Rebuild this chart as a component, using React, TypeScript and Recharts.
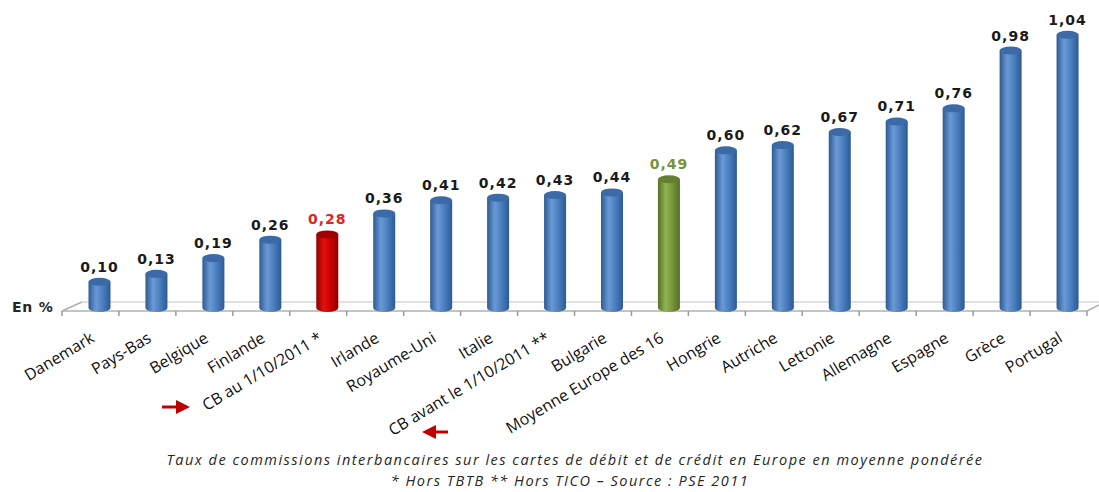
import React from 'react';
import * as RC from 'recharts';
import { BarChart, Bar, XAxis, YAxis, LabelList } from 'recharts';

const categories = [
  'Danemark', 'Pays-Bas', 'Belgique', 'Finlande', 'CB au 1/10/2011 *', 'Irlande',
  'Royaume-Uni', 'Italie', 'CB avant le 1/10/2011 **', 'Bulgarie', 'Moyenne Europe des 16',
  'Hongrie', 'Autriche', 'Lettonie', 'Allemagne', 'Espagne', 'Grèce', 'Portugal',
];
const values = [0.10, 0.13, 0.19, 0.26, 0.28, 0.36, 0.41, 0.42, 0.43, 0.44, 0.49, 0.60, 0.62, 0.67, 0.71, 0.76, 0.98, 1.04];
const highlight = ['blue', 'blue', 'blue', 'blue', 'red', 'blue', 'blue', 'blue', 'blue', 'blue', 'green', 'blue', 'blue', 'blue', 'blue', 'blue', 'blue', 'blue'];
const caption1 = 'Taux de commissions interbancaires sur les cartes de débit et de crédit en Europe en moyenne pondérée';
const caption2 = '* Hors TBTB ** Hors TICO – Source : PSE 2011';
const unitLabel = 'En %';

const data = categories.map((c, i) => ({ name: c, value: values[i], kind: highlight[i] }));

const W = 1099;
const H = 492;
const M = { top: 19, right: 12, left: 62, bottom: 0 };
const PLOT_BOTTOM = 308;
const SHIFT = 9.5;

const palette: Record<string, { dark: string; mid: string; light: string; top: string; label: string }> = {
  blue: { dark: '#2d5a93', mid: '#4a7ebe', light: '#6a9ad6', top: '#3b6aa6', label: '#1a1a1a' },
  red: { dark: '#8e0000', mid: '#c80000', light: '#e81010', top: '#a00000', label: '#e02424' },
  green: { dark: '#56702a', mid: '#77963c', light: '#92b450', top: '#647f30', label: '#76923c' },
};

const Cylinder = (props: any) => {
  const { x, y, width, height, index, payload } = props;
  const kind = (payload && payload.kind) || highlight[index] || 'blue';
  const c = palette[kind];
  const cx = x + width / 2 + SHIFT;
  const rx = width / 2;
  const ry = 4;
  const left = cx - rx;
  const right = cx + rx;
  const bottom = y + height;
  const id = `cyl-grad-${index}`;
  return (
    <g>
      <defs>
        <linearGradient id={id} x1="0" y1="0" x2="1" y2="0">
          <stop offset="0%" stopColor={c.dark} />
          <stop offset="35%" stopColor={c.light} />
          <stop offset="65%" stopColor={c.mid} />
          <stop offset="100%" stopColor={c.dark} />
        </linearGradient>
      </defs>
      <path
        d={`M${left},${y} L${left},${bottom} A${rx},${ry} 0 0 0 ${right},${bottom} L${right},${y} Z`}
        fill={`url(#${id})`}
      />
      <ellipse cx={cx} cy={y} rx={rx} ry={ry} fill={c.top} />
    </g>
  );
};

const ValueLabel = (props: any) => {
  const { x, y, width, value, index } = props;
  const kind = highlight[index] || 'blue';
  return (
    <text
      x={x + width / 2 + SHIFT}
      y={y - 10}
      textAnchor="middle"
      fontFamily="DejaVu Sans"
      fontWeight="bold"
      fontSize={14}
      letterSpacing={1}
      fill={palette[kind].label}
    >
      {String(Number(value).toFixed(2)).replace('.', ',')}
    </text>
  );
};

const CatTick = (props: any) => {
  const { x, payload } = props;
  const ax = x + 5;
  const ay = PLOT_BOTTOM + 33;
  return (
    <text
      x={ax}
      y={ay}
      transform={`rotate(-31, ${ax}, ${ay})`}
      textAnchor="end"
      fontFamily="Open Sans"
      fontSize={16}
      fill="#111111"
    >
      {payload.value}
    </text>
  );
};

const Decor = () => {
  const L = M.left;
  const R = W - M.right;
  const n = categories.length;
  const step = (R - L) / n;
  const fy = 311;
  const by = 302;
  const d = 20;
  const ticks = [] as React.ReactNode[];
  for (let k = 0; k <= n; k++) {
    const tx = L + step * k;
    ticks.push(<line key={k} x1={tx} y1={fy} x2={tx} y2={316} stroke="#9a9a9a" strokeWidth={1.5} />);
  }
  return (
    <g>
      <line x1={L} y1={fy} x2={R} y2={fy} stroke="#b0b0b0" strokeWidth={1.5} />
      <line x1={L} y1={fy} x2={L + d} y2={by} stroke="#b0b0b0" strokeWidth={1.5} />
      <line x1={L + d} y1={by} x2={W} y2={by} stroke="#c4c4c4" strokeWidth={1.2} />
      <line x1={R} y1={fy} x2={W} y2={fy - 6} stroke="#b0b0b0" strokeWidth={1.5} />
      {ticks}
      <text x={12} y={312} fontFamily="DejaVu Sans" fontWeight="bold" fontSize={14} letterSpacing={0.8} fill="#262626">
        {unitLabel}
      </text>
      <g fill="#c00000" stroke="#c00000">
        <line x1={162} y1={407} x2={178} y2={407} strokeWidth={3} />
        <polygon points="176,400 190,407 176,414" stroke="none" />
        <line x1={448} y1={432} x2={434} y2={432} strokeWidth={3} />
        <polygon points="436,425 422,432 436,439" stroke="none" />
      </g>
      <text x={575} y={465} textAnchor="middle" fontFamily="Open Sans" fontStyle="italic" fontSize={14.5} letterSpacing={1.5} fill="#262626">
        {caption1}
      </text>
      <text x={570} y={486} textAnchor="middle" fontFamily="Open Sans" fontStyle="italic" fontSize={14.5} letterSpacing={1.5} fill="#262626">
        {caption2}
      </text>
    </g>
  );
};

export default function App() {
  const Customized = (RC as any).Customized;
  return (
    <div style={{ position: 'absolute', left: 0, top: 0, width: W, height: H, background: '#ffffff' }}>
      <BarChart width={W} height={H} data={data} margin={M} barSize={22}>
        {Customized ? <Customized component={Decor} /> : <Decor />}
        <XAxis
          dataKey="name"
          interval={0}
          axisLine={false}
          tickLine={false}
          height={H - PLOT_BOTTOM - M.bottom}
          tick={<CatTick />}
        />
        <YAxis hide domain={[0, 1.1]} width={0} />
        <Bar dataKey="value" shape={<Cylinder />} isAnimationActive={false}>
          <LabelList dataKey="value" content={<ValueLabel />} />
        </Bar>
      </BarChart>
    </div>
  );
}
